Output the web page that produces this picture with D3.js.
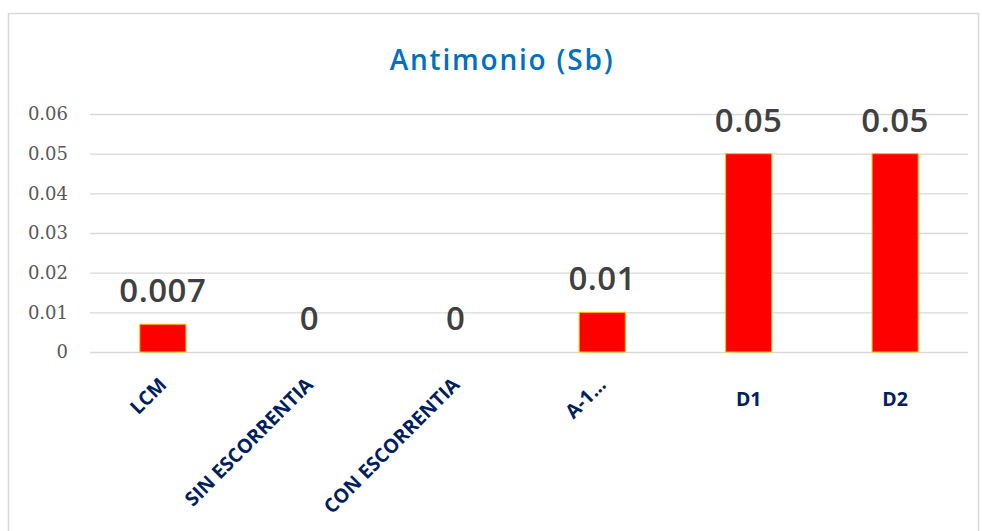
<!DOCTYPE html>
<html>
<head>
<meta charset="utf-8">
<script src="https://cdn.jsdelivr.net/npm/d3@7"></script>
<style>
  body { margin: 0; background: #fff; }
  svg { display: block; font-family: "Open Sans", sans-serif; }
</style>
</head>
<body>
<div id="chart"></div>
<script>
// Chart data;
var categories = ["LCM", "SIN ESCORRENTIA", "CON ESCORRENTIA", "A-1...", "D1", "D2"]
var values = [0.007, 0, 0, 0.01, 0.05, 0.05]
var valueLabels = ["0.007", "0", "0", "0.01", "0.05", "0.05"]
var rotated = [true, true, true, true, false, false]
var yTicks = [0, 0.01, 0.02, 0.03, 0.04, 0.05, 0.06]

var width = 982
var height = 531
var plot = { left: 90, right: 968, top: 114, bottom: 352 }

const svg = d3.select("#chart").append("svg")
    .attr("width", width)
    .attr("height", height)

// Chart border;
svg.append("rect")
    .attr("x", 8.5).attr("y", 13.5)
    .attr("width", 970).attr("height", 530)
    .attr("fill", "none")
    .attr("stroke", "#d9d9d9")
    .attr("stroke-width", 1.5)

var x = d3.scaleBand()
    .domain(categories)
    .range([plot.left, plot.right])
    .paddingInner(0.685)
    .paddingOuter(0.34)

var y = d3.scaleLinear()
    .domain([0, 0.06])
    .range([plot.bottom, plot.top])

// Title;
svg.append("text")
    .attr("x", 502).attr("y", 70)
    .attr("text-anchor", "middle")
    .attr("font-size", 28)
    .attr("font-weight", 600)
    .attr("letter-spacing", 1.8)
    .attr("fill", "#0070c0")
    .text("Antimonio (Sb)")

// Gridlines and y axis;
const yAxis = svg.append("g")
    .attr("transform", `translate(${plot.left},0)`)
    .call(d3.axisLeft(y).tickValues(yTicks).tickSize(-(plot.right - plot.left)).tickPadding(22)
        .tickFormat(d => d === 0 ? "0" : d3.format(".2f")(d)))
yAxis.select(".domain").remove()
yAxis.selectAll(".tick line").attr("stroke", "#d9d9d9").attr("stroke-width", 1.3)
yAxis.selectAll(".tick text")
    .attr("fill", "#595959")
    .attr("font-size", 18)
    .attr("font-family", "DejaVu Serif, serif")

// Bars;
svg.selectAll("rect.bar")
    .data(values)
    .join("rect")
    .attr("class", "bar")
    .attr("x", (d, i) => x(categories[i]))
    .attr("y", d => y(d))
    .attr("width", x.bandwidth())
    .attr("height", d => y(0) - y(d))
    .attr("fill", "#ff0000")
    .attr("stroke", d => d > 0 ? "#ffc000" : "none")
    .attr("stroke-width", 1)

// Value labels;
svg.selectAll("text.value")
    .data(values)
    .join("text")
    .attr("class", "value")
    .attr("x", (d, i) => x(categories[i]) + x.bandwidth() / 2)
    .attr("y", d => y(d) - 22)
    .attr("text-anchor", "middle")
    .attr("font-size", 33)
    .attr("font-weight", 600)
    .attr("letter-spacing", 0.5)
    .attr("fill", "#404040")
    .text((d, i) => valueLabels[i])

// Category labels;
svg.selectAll("text.cat")
    .data(categories)
    .join("text")
    .attr("class", "cat")
    .attr("font-size", 19.5)
    .attr("font-weight", "bold")
    .attr("fill", "#002060")
    .attr("text-anchor", (d, i) => rotated[i] ? "end" : "middle")
    .attr("transform", (d, i) => {
        const cx = x(d) + x.bandwidth() / 2
        return rotated[i]
            ? `translate(${cx + 5},${386}) rotate(-45)`
            : `translate(${cx},${406})`
    })
    .text(d => d)
</script>
</body>
</html>
